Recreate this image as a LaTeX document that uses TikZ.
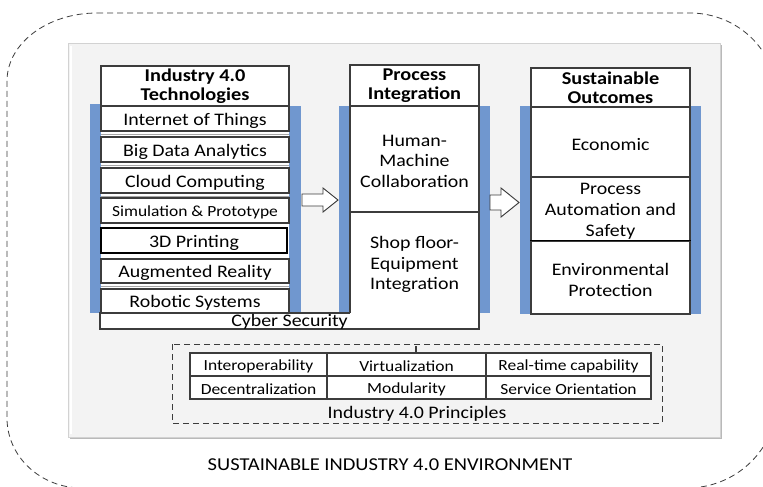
\documentclass[tikz,border=0pt]{standalone}
\usepackage{fontspec}
\setmainfont[FakeStretch=1.13]{Carlito}
\usetikzlibrary{calc}
\definecolor{barblue}{RGB}{112,151,207}
\definecolor{panelgray}{RGB}{243,243,243}
\definecolor{edge}{RGB}{60,60,60}
\tikzset{
  pbox/.style={draw=edge, fill=white, line width=0.8pt, inner sep=0pt, align=center},
  plain/.style={inner sep=0pt, align=center},
  bar/.style={fill=barblue, draw=none, inner sep=0pt},
  txt/.style={font=\fontsize{13.2}{15.5}\selectfont},
  small/.style={font=\fontsize{11.6}{13}\selectfont},
  head/.style={font=\bfseries\fontsize{13.5}{14.3}\selectfont, yshift=1.2pt},
  blockarr/.style={draw=edge, fill=white, line width=0.7pt, line join=miter},
  dashline/.style={edge, dash pattern=on 4.5pt off 3pt},
}
% \bx{name}{x1}{y1}{x2}{y2}{box style}{text style}{text}
\newcommand\bx[8]{%
  \node[#6, minimum width={(#4-#2)*0.75pt}, minimum height={(#5-#3)*0.75pt}] (#1) at ({(#2+#4)/2},{(#3+#5)/2}) {};
  \node[plain, yshift=-1.6pt, #7] (#1-t) at (#1.center) {#8};}
\begin{document}
\begin{tikzpicture}[x=0.75pt,y=-0.75pt]
\useasboundingbox (0,0) rectangle (763,486);
\clip (0,0) rectangle (763,486);
\fill[white] (0,0) rectangle (763,486);
% outer dashed environment
\draw[dashline, line width=0.6pt] (97,13) -- (690,13)
  arc[start angle=-90, end angle=0, x radius=87, y radius=85] -- (777,400)
  arc[start angle=0, end angle=90, x radius=90, y radius=88] -- (82,488)
  arc[start angle=90, end angle=180, x radius=75, y radius=70] -- (7,81)
  arc[start angle=180, end angle=270, x radius=90, y radius=68] -- cycle;
\node[font=\fontsize{13.6}{15}\selectfont] (envlabel) at (390,465) {SUSTAINABLE INDUSTRY 4.0 ENVIRONMENT};
% gray panel
\fill[gray!55] (70,45) rectangle (722,439);
\draw[gray!35, fill=panelgray, line width=0.6pt] (68,43) rectangle (720,437);
\draw[white, line width=0.8pt] (71,46) -- (71,434);

% ---------- column 1 ----------
\bx{b1l}{90}{104}{101}{313}{bar}{}{}
\bx{b1r}{289}{106}{301}{313}{bar}{}{}
\fill[white] (101,106) rectangle (289,313);
\bx{cyber}{100}{313}{479}{329}{pbox}{}{}
\bx{h1}{101}{66}{289}{106}{pbox}{head}{Industry 4.0\\Technologies}
\bx{iot}{101}{106}{289}{131}{pbox}{txt}{Internet of Things}
\draw[gray!70, line width=0.5pt] (101,134) -- (289,134);
\bx{bda}{101}{137}{289}{162}{pbox}{txt}{Big Data Analytics}
\draw[gray!70, line width=0.5pt] (101,165) -- (289,165);
\bx{cc}{101}{168}{289}{193}{pbox}{txt}{Cloud Computing}
\draw[gray!70, line width=0.5pt] (101,196) -- (289,196);
\bx{sim}{101}{198}{289}{223}{pbox}{small}{Simulation \& Prototype}
\bx{print}{101}{228}{287}{253}{pbox,draw=black,line width=1pt}{txt}{3D Printing}
\bx{ar}{101}{259}{289}{283}{pbox}{txt}{Augmented Reality}
\draw[gray!70, line width=0.5pt] (101,286) -- (289,286);
\bx{robot}{101}{289}{289}{313}{pbox}{txt}{Robotic Systems}

% ---------- column 2 ----------
\bx{b2l}{339}{106}{350}{313}{bar}{}{}
\bx{b2r}{479}{106}{490}{313}{bar}{}{}
\fill[white] (350,106) rectangle (479,329);
\draw[edge, line width=0.8pt] (350,313) -- (350,106) -- (479,106) -- (479,329) -- (350,329);
\draw[edge, line width=0.8pt] (100,313) -- (350,313);
\node[txt, anchor=base] (cybertext) at (289.5,326) {Cyber Security};
\bx{h2}{350}{65}{479}{106}{pbox}{head}{Process\\Integration}
\bx{hmc}{350}{106}{479}{212}{pbox}{txt}{Human-\\Machine\\Collaboration}
\bx{sfe}{350}{212}{479}{313}{plain}{txt}{Shop floor-\\Equipment\\Integration}

% ---------- column 3 ----------
\bx{b3l}{520}{106}{531}{314}{bar}{}{}
\bx{b3r}{690}{106}{701}{314}{bar}{}{}
\bx{h3}{531}{68}{690}{107}{pbox}{head}{Sustainable\\Outcomes}
\bx{econ}{531}{107}{690}{177}{pbox}{txt}{Economic}
\bx{proc}{531}{177}{690}{241}{pbox}{txt}{Process\\Automation and\\Safety}
\bx{envp}{531}{241}{690}{314}{pbox}{txt}{Environmental\\Protection}
\draw[black, line width=1.4pt] (envp.north west) -- (envp.north east);

% ---------- block arrows ----------
\draw[blockarr] (302,194) -- (323,194) -- (323,188) -- (338,200) -- (323,212) -- (323,206) -- (302,206) -- cycle;
\draw[blockarr] (490,195) -- (501,195) -- (501,188) -- (519,202.5) -- (501,217) -- (501,210) -- (490,210) -- cycle;

% ---------- principles ----------
\draw[dashline, line width=0.7pt] (172,344) rectangle (662,423);
\draw[edge, line width=0.9pt] (416,346) -- (416,352);
\bx{interop}{190}{353}{327}{376}{pbox}{small}{Interoperability}
\bx{virt}{327}{353}{486}{376}{pbox}{small}{Virtualization}
\bx{rt}{486}{353}{651}{376}{pbox}{small}{Real-time capability}
\bx{dec}{190}{376}{327}{399}{pbox}{small}{Decentralization}
\bx{mod}{327}{376}{486}{399}{pbox}{small}{Modularity}
\bx{so}{486}{376}{651}{399}{pbox}{small}{Service Orientation}
\node[txt, anchor=base] (princ) at (417,418) {Industry 4.0 Principles};
\end{tikzpicture}
\end{document}
